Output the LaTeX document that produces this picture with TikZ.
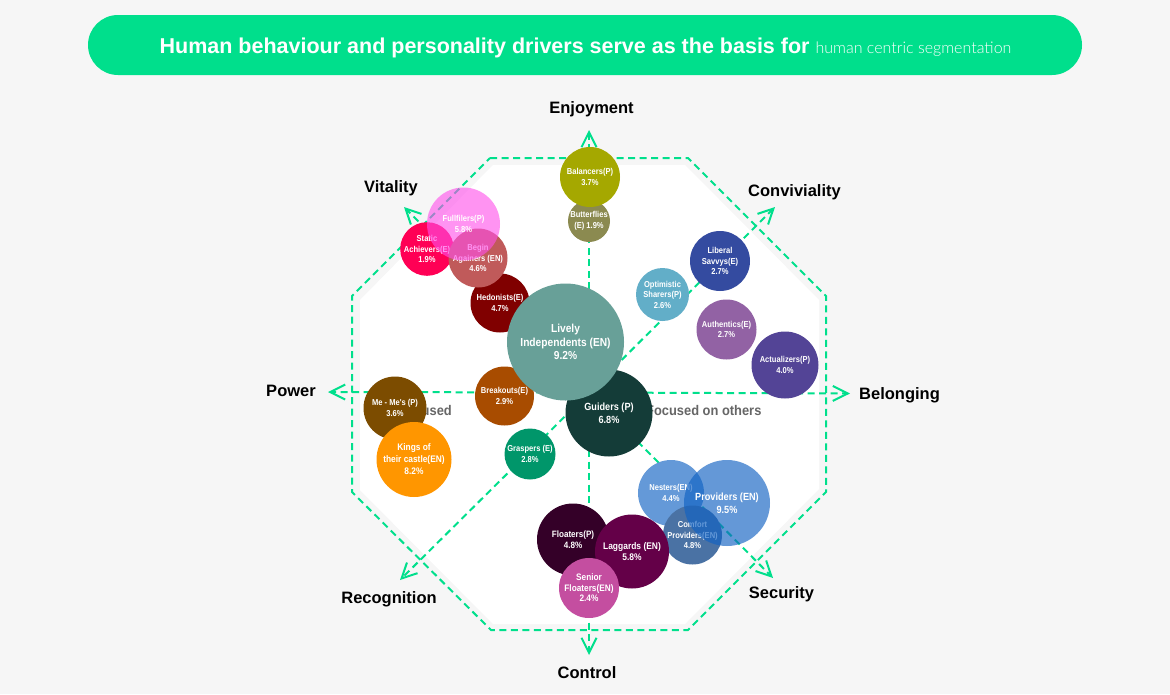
\documentclass[tikz,border=0pt]{standalone}
\usepackage{fontspec}
\setmainfont{Liberation Sans}
\newfontfamily\nar[FakeStretch=.88]{Liberation Sans}
\newfontfamily\semi[FakeStretch=.92]{Liberation Sans}
\newfontfamily\lightf{Lato Light}
\usetikzlibrary{arrows.meta}
\definecolor{bgc}{HTML}{F6F6F6}
\definecolor{grn}{HTML}{00DF8C}
\tikzset{
  bub/.style={circle,inner sep=0pt,outer sep=0pt,align=center,text=white,font=\nar\fontsize{8.6}{10.5}\selectfont\bfseries},
  dashline/.style={draw=grn,line width=2pt,dash pattern=on 7pt off 4.5pt},
  axis/.style={dashline,-{Straight Barb[length=15pt,width=15pt,line width=2pt]}},
  lab/.style={font=\fontsize{16.5}{18}\selectfont\bfseries,text=black,inner sep=0pt},
  side/.style={font=\semi\fontsize{14}{16}\selectfont\bfseries,text=black!60,inner sep=0pt}
}
\begin{document}
\begin{tikzpicture}[x=1pt,y=-1pt]
\fill[bgc] (0,0) rectangle (1170,694);
\useasboundingbox (0,0) rectangle (1170,694);
% title
\node[fill=grn,rounded corners=30pt,minimum width=994pt,minimum height=60pt,inner sep=0pt] (title) at (585,45) {};
\node[inner sep=0pt,text=white] (titletext) at (585.5,47.5)
  {\fontsize{21.5}{24}\selectfont\bfseries Human behaviour and personality drivers serve as the basis for \lightf\mdseries\fontsize{16}{24}\selectfont human centric segmentation};
% octagons
\fill[white] (493,165)--(685,165)--(819,300)--(819,489)--(685,624)--(493,624)--(360,490)--(360,300)--cycle;
\draw[dashline] (490,158)--(688,158)--(826,296)--(826,492)--(688,630)--(491,630)--(352,492)--(352,296)--cycle;
% side texts
\node[side,anchor=east] (selft) at (452,410) {used};
\node[side,anchor=west] (othert) at (646,410) {Focused on others};
% axes
\coordinate (c) at (589,392.5);
\coordinate (tE) at (589,130);
\coordinate (tC) at (589,655);
\coordinate (tP) at (328,392);
\coordinate (tB) at (850,393.5);
\coordinate (tCv) at (775,207);
\coordinate (tR) at (400,580);
\coordinate (tV) at (404,207);
\coordinate (tS) at (773,578);
\foreach \t in {tE,tC,tP,tB,tCv,tR,tV,tS}{\draw[axis] (c)--(\t);}
% labels
\node[lab] (lE) at (591.5,109.5) {Enjoyment};
\node[lab] (lV) at (391,188) {Vitality};
\node[lab] (lCv) at (794.5,192) {Conviviality};
\node[lab] (lP) at (291,391) {Power};
\node[lab] (lB) at (899.5,395) {Belonging};
\node[lab] (lR) at (389,599) {Recognition};
\node[lab] (lS) at (781.5,594.5) {Security};
\node[lab] (lC) at (587,673) {Control};
% bubbles
\node[bub,fill={rgb,255:red,139;green,138;blue,80},minimum size=42pt] (but) at (589,221) {Butterflies\\(E) 1.9\%};
\node[bub,fill={rgb,255:red,165;green,168;blue,0},minimum size=60pt] (bal) at (590,177) {Balancers(P)\\3.7\%};
\node[bub,fill={rgb,255:red,128;green,0;blue,0},minimum size=59pt] (hed) at (500,303) {Hedonists(E)\\4.7\%};
\node[bub,fill={rgb,255:red,255;green,0;blue,85},minimum size=52pt] (sta) at (427,249) {Static\\Achievers(E)\\1.9\%};
\node[bub,fill={rgb,255:red,192;green,90;blue,90},minimum size=59pt] (beg) at (478,258) {Begin\\Againers (EN)\\4.6\%};
\node[bub,fill={rgb,255:red,255;green,79;blue,235},fill opacity=.61,text opacity=1,minimum size=73pt] (ful) at (463.5,224) {Fullfilers(P)\\5.8\%};
\node[bub,fill={rgb,255:red,20;green,60;blue,56},minimum size=87pt,font=\nar\fontsize{10.4}{13}\selectfont\bfseries] (gui) at (609,413) {Guiders (P)\\6.8\%};
\node[bub,fill={rgb,255:red,168;green,76;blue,0},minimum size=59pt] (bre) at (504.5,396) {Breakouts(E)\\2.9\%};
\node[bub,fill={rgb,255:red,104;green,160;blue,152},minimum size=117pt,font=\nar\fontsize{11.6}{13.5}\selectfont\bfseries] (liv) at (565.5,342) {Lively\\Independents (EN)\\9.2\%};
\node[bub,fill={rgb,255:red,98;green,174;blue,200},minimum size=53pt] (opt) at (662.5,294.5) {Optimistic\\Sharers(P)\\2.6\%};
\node[bub,fill={rgb,255:red,52;green,75;blue,160},minimum size=60pt] (lib) at (720,261) {Liberal\\Savvys(E)\\2.7\%};
\node[bub,fill={rgb,255:red,146;green,98;blue,164},minimum size=60pt] (aut) at (726.5,329.5) {Authentics(E)\\2.7\%};
\node[bub,fill={rgb,255:red,83;green,68;blue,150},minimum size=67pt] (act) at (785,365) {Actualizers(P)\\4.0\%};
\node[bub,fill={rgb,255:red,124;green,76;blue,0},minimum size=63pt] (mem) at (395,408) {Me - Me's (P)\\3.6\%};
\node[bub,fill={rgb,255:red,255;green,150;blue,0},minimum size=75pt,font=\nar\fontsize{9.5}{12}\selectfont\bfseries] (kin) at (414,459.5) {Kings of\\their castle(EN)\\8.2\%};
\node[bub,fill={rgb,255:red,0;green,150;blue,106},minimum size=51pt] (gra) at (530,454) {Graspers (E)\\2.8\%};
\node[bub,fill={rgb,255:red,100;green,153;blue,216},minimum size=66pt] (nes) at (671,493) {Nesters(EN)\\4.4\%};
\node[bub,fill={rgb,255:red,74;green,114;blue,164},minimum size=59pt] (com) at (692.5,535) {Comfort\\Providers(EN)\\4.8\%};
\node[bub,fill={rgb,255:red,17;green,98;blue,195},fill opacity=.65,text opacity=1,minimum size=86pt,font=\nar\fontsize{10.4}{13}\selectfont\bfseries] (pro) at (727,503) {Providers (EN)\\9.5\%};
\node[bub,fill={rgb,255:red,52;green,0;blue,40},minimum size=72pt,font=\nar\fontsize{9.2}{11}\selectfont\bfseries] (flo) at (573,539.5) {Floaters(P)\\4.8\%};
\node[bub,fill={rgb,255:red,100;green,0;blue,72},minimum size=74pt,font=\nar\fontsize{9.6}{11.5}\selectfont\bfseries] (lag) at (632,551.5) {Laggards (EN)\\5.8\%};
\node[bub,fill={rgb,255:red,196;green,78;blue,160},minimum size=60pt,font=\nar\fontsize{9.4}{10.5}\selectfont\bfseries] (sen) at (589,588) {Senior\\Floaters(EN)\\2.4\%};
\end{tikzpicture}
\end{document}
